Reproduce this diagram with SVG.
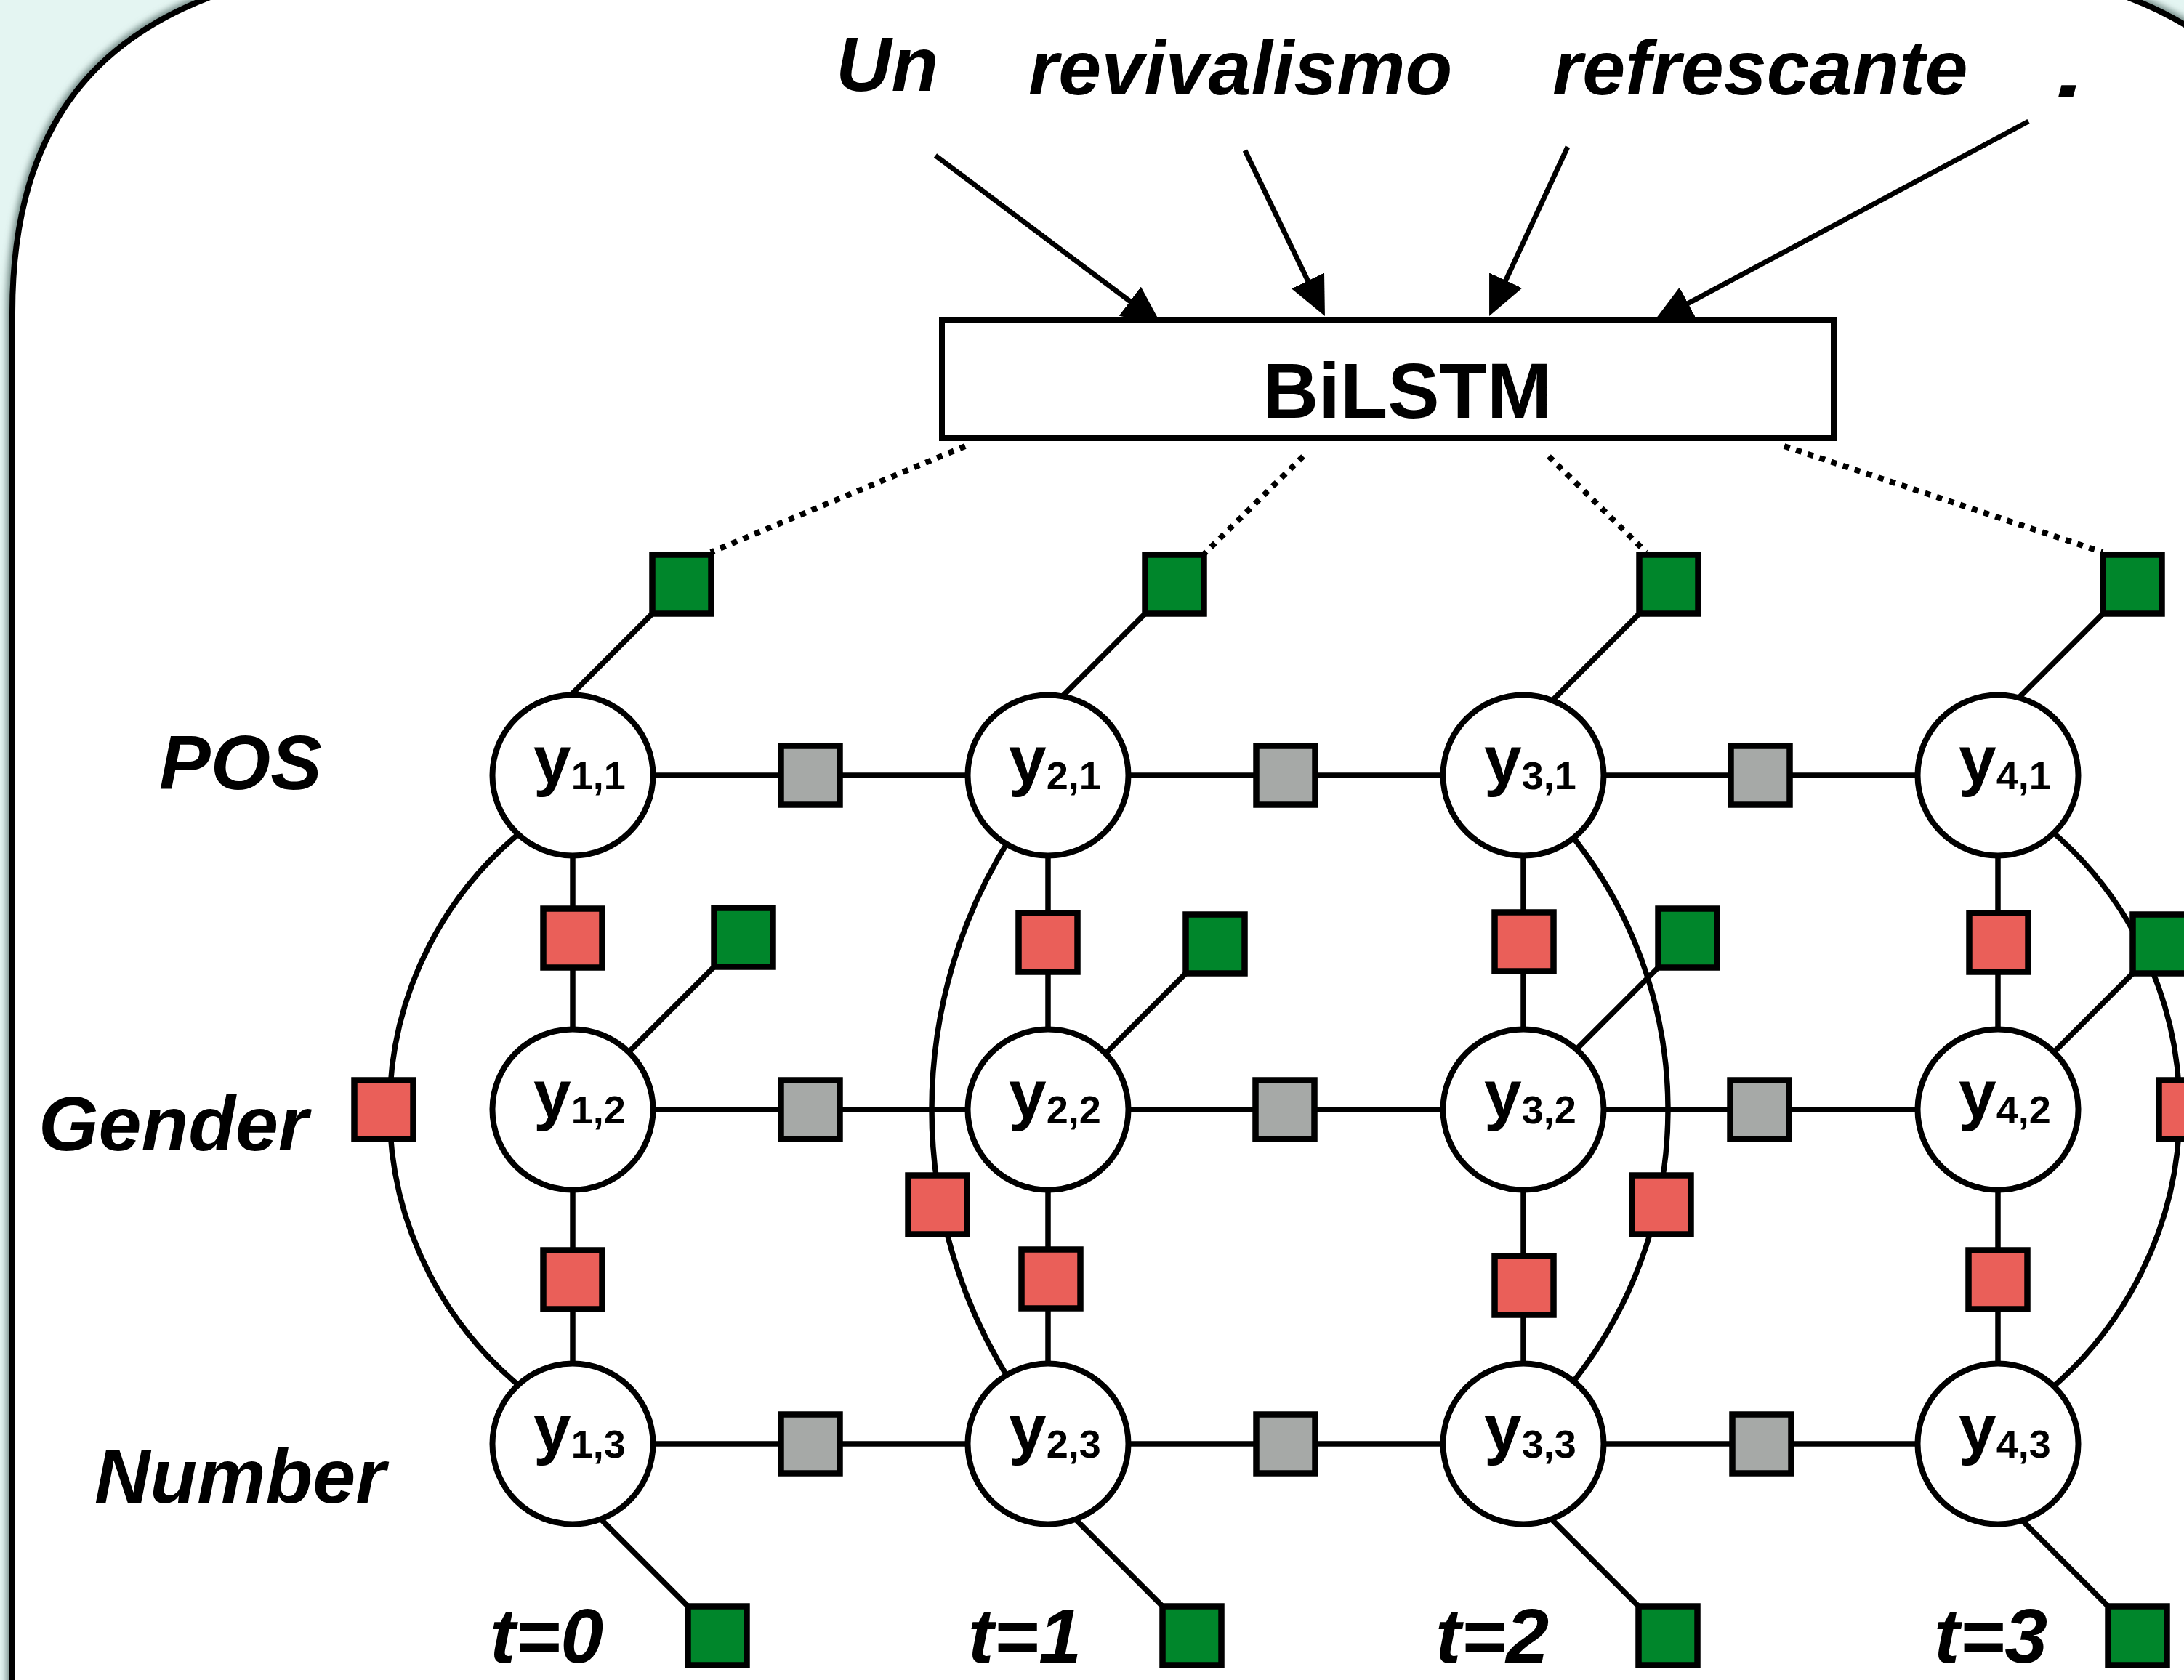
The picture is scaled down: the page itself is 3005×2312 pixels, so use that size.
<svg xmlns="http://www.w3.org/2000/svg" width="3005" height="2312" viewBox="0 0 3005 2312">
<defs>
<style>
.ln{stroke:#000;stroke-width:7.5;fill:none}
.dt{stroke:#000;stroke-width:8;stroke-dasharray:8 9;fill:none}
.ar{stroke:#000;stroke-width:7;fill:none;marker-end:url(#ah)}
.nd{fill:#fff;stroke:#000;stroke-width:8}
.sq{stroke:#000;stroke-width:8.5}
.g{fill:#00862b}
.r{fill:#ea5f59}
.h{fill:#a6a9a7}
.tx{font-family:"Liberation Sans",Arial,Helvetica,sans-serif;font-weight:bold;fill:#000}
.it{font-style:italic;font-size:106px}
.nl{font-size:93px}
.sb{font-size:54px}
</style>
<marker id="ah" markerUnits="userSpaceOnUse" viewBox="0 0 54 50" markerWidth="54" markerHeight="50" refX="32" refY="25" orient="auto">
<path d="M0,0 L54,25 L0,50 Z" fill="#000"/>
</marker>
<filter id="blur" x="-5%" y="-5%" width="110%" height="110%">
<feGaussianBlur stdDeviation="5"/>
</filter>
</defs>

<rect x="0" y="0" width="3005" height="2312" fill="#e4f5f2"/>
<g id="frame">
<path d="M17,2340 L17,430 C17,200 110,60 300,-8 L600,-90 L2616,-90 L2916,-8 C3106,60 3198,200 3198,430 L3198,2340 Z" fill="none" stroke="#6f8783" stroke-width="16" filter="url(#blur)"/>
<path d="M17,2340 L17,430 C17,200 110,60 300,-8 L600,-90 L2616,-90 L2916,-8 C3106,60 3198,200 3198,430 L3198,2340 Z" fill="#fff" stroke="#000" stroke-width="8"/>
</g>

<g id="words" class="tx it">
<text x="1150" y="125">Un</text>
<text x="1415" y="130">revivalismo</text>
<text x="2136" y="130">refrescante</text>
<text x="2829" y="133" textLength="40" lengthAdjust="spacingAndGlyphs">.</text>
</g>

<g id="row-labels" class="tx it">
<text x="219" y="1086">POS</text>
<text x="53" y="1583">Gender</text>
<text x="130" y="2068">Number</text>
</g>

<g id="time-labels" class="tx it">
<text x="674" y="2288">t=0</text>
<text x="1332" y="2288">t=1</text>
<text x="1975" y="2288">t=2</text>
<text x="2661" y="2288">t=3</text>
</g>

<g id="connectors">
<line class="ar" x1="1287" y1="214" x2="1580.4" y2="433.8"/>
<line class="ar" x1="1713" y1="207" x2="1813.4" y2="415.2"/>
<line class="ar" x1="2157" y1="202" x2="2058.3" y2="415"/>
<line class="ar" x1="2791" y1="167" x2="2294.4" y2="432.6"/>
<line class="dt" x1="1328" y1="614" x2="978" y2="760"/>
<line class="dt" x1="1793" y1="628" x2="1657" y2="762"/>
<line class="dt" x1="2131" y1="628" x2="2265" y2="760"/>
<line class="dt" x1="2455" y1="614" x2="2893" y2="760"/>
<line class="ln" x1="788" y1="1067" x2="2748" y2="1067"/>
<line class="ln" x1="788" y1="1527" x2="2748" y2="1527"/>
<line class="ln" x1="788" y1="1987" x2="2748" y2="1987"/>
<line class="ln" x1="788" y1="1067" x2="788" y2="1987"/>
<line class="ln" x1="1442" y1="1067" x2="1442" y2="1987"/>
<line class="ln" x1="2096" y1="1067" x2="2096" y2="1987"/>
<line class="ln" x1="2749" y1="1067" x2="2749" y2="1987"/>
<path class="ln" d="M723,1140 A494,494 0 0 0 723,1914"/>
<path class="ln" d="M1392,1150 A701,701 0 0 0 1392,1904"/>
<path class="ln" d="M2158.6,1145 A603,603 0 0 1 2158.6,1909"/>
<path class="ln" d="M2818.4,1140 A505,505 0 0 1 2818.4,1914"/>
<line class="ln" x1="938" y1="804" x2="778" y2="964"/>
<line class="ln" x1="1616" y1="804" x2="1456" y2="964"/>
<line class="ln" x1="2296" y1="804" x2="2131" y2="969"/>
<line class="ln" x1="2934" y1="804" x2="2774" y2="964"/>
<line class="ln" x1="1023" y1="1290" x2="858" y2="1455"/>
<line class="ln" x1="1672" y1="1299" x2="1512" y2="1459"/>
<line class="ln" x1="2322" y1="1291" x2="2162" y2="1451"/>
<line class="ln" x1="2975" y1="1299" x2="2815" y2="1459"/>
<line class="ln" x1="987" y1="2251" x2="822" y2="2086"/>
<line class="ln" x1="1640" y1="2251" x2="1475" y2="2086"/>
<line class="ln" x1="2295" y1="2251" x2="2130" y2="2086"/>
<line class="ln" x1="2941" y1="2251" x2="2776" y2="2086"/>
</g>

<g id="bilstm">
<rect x="1296" y="440" width="1227" height="163" fill="#fff" stroke="#000" stroke-width="8"/>
<text class="tx" x="1737" y="575" font-size="107">BiLSTM</text>
</g>

<g id="factors">
<rect id="f-u-1-1" class="sq g" x="897.5" y="763.5" width="81" height="81"/>
<rect id="f-u-2-1" class="sq g" x="1575.5" y="763.5" width="81" height="81"/>
<rect id="f-u-3-1" class="sq g" x="2255.5" y="763.5" width="81" height="81"/>
<rect id="f-u-4-1" class="sq g" x="2893.5" y="763.5" width="81" height="81"/>
<rect id="f-u-1-2" class="sq g" x="982.5" y="1249.5" width="81" height="81"/>
<rect id="f-u-2-2" class="sq g" x="1631.5" y="1258.5" width="81" height="81"/>
<rect id="f-u-3-2" class="sq g" x="2281.5" y="1250.5" width="81" height="81"/>
<rect id="f-u-4-2" class="sq g" x="2934.5" y="1258.5" width="81" height="81"/>
<rect id="f-u-1-3" class="sq g" x="946.5" y="2210.5" width="81" height="81"/>
<rect id="f-u-2-3" class="sq g" x="1599.5" y="2210.5" width="81" height="81"/>
<rect id="f-u-3-3" class="sq g" x="2254.5" y="2210.5" width="81" height="81"/>
<rect id="f-u-4-3" class="sq g" x="2900.5" y="2210.5" width="81" height="81"/>

<rect id="f-t-12-1" class="sq h" x="1074.5" y="1026.5" width="81" height="81"/>
<rect id="f-t-23-1" class="sq h" x="1728.5" y="1026.5" width="81" height="81"/>
<rect id="f-t-34-1" class="sq h" x="2381.5" y="1026.5" width="81" height="81"/>
<rect id="f-t-12-2" class="sq h" x="1074.5" y="1486.5" width="81" height="81"/>
<rect id="f-t-23-2" class="sq h" x="1727.5" y="1486.5" width="81" height="81"/>
<rect id="f-t-34-2" class="sq h" x="2380.5" y="1486.5" width="81" height="81"/>
<rect id="f-t-12-3" class="sq h" x="1074.5" y="1946.5" width="81" height="81"/>
<rect id="f-t-23-3" class="sq h" x="1728.5" y="1946.5" width="81" height="81"/>
<rect id="f-t-34-3" class="sq h" x="2383.5" y="1946.5" width="81" height="81"/>

<rect id="f-c-1-12" class="sq r" x="747.5" y="1250.5" width="81" height="81"/>
<rect id="f-c-1-23" class="sq r" x="747.5" y="1720.5" width="81" height="81"/>
<rect id="f-c-2-12" class="sq r" x="1401.5" y="1256.5" width="81" height="81"/>
<rect id="f-c-2-23" class="sq r" x="1405.5" y="1719.5" width="81" height="81"/>
<rect id="f-c-3-12" class="sq r" x="2056.5" y="1255.5" width="81" height="81"/>
<rect id="f-c-3-23" class="sq r" x="2056.5" y="1728.5" width="81" height="81"/>
<rect id="f-c-4-12" class="sq r" x="2709.5" y="1256.5" width="81" height="81"/>
<rect id="f-c-4-23" class="sq r" x="2708.5" y="1720.5" width="81" height="81"/>

<rect id="f-c-1-13" class="sq r" x="487.5" y="1486.5" width="81" height="81"/>
<rect id="f-c-2-13" class="sq r" x="1249.5" y="1617.5" width="81" height="81"/>
<rect id="f-c-3-13" class="sq r" x="2245.5" y="1617.5" width="81" height="81"/>
<rect id="f-c-4-13" class="sq r" x="2970.5" y="1486.5" width="81" height="81"/>
</g>

<g id="y11"><circle class="nd" cx="788" cy="1067" r="110.5"/><text class="tx nl" x="734" y="1078">y<tspan class="sb" dy="8">1,1</tspan></text></g>
<g id="y12"><circle class="nd" cx="788" cy="1527" r="110.5"/><text class="tx nl" x="734" y="1538">y<tspan class="sb" dy="8">1,2</tspan></text></g>
<g id="y13"><circle class="nd" cx="788" cy="1987" r="110.5"/><text class="tx nl" x="734" y="1998">y<tspan class="sb" dy="8">1,3</tspan></text></g>
<g id="y21"><circle class="nd" cx="1442" cy="1067" r="110.5"/><text class="tx nl" x="1388" y="1078">y<tspan class="sb" dy="8">2,1</tspan></text></g>
<g id="y22"><circle class="nd" cx="1442" cy="1527" r="110.5"/><text class="tx nl" x="1388" y="1538">y<tspan class="sb" dy="8">2,2</tspan></text></g>
<g id="y23"><circle class="nd" cx="1442" cy="1987" r="110.5"/><text class="tx nl" x="1388" y="1998">y<tspan class="sb" dy="8">2,3</tspan></text></g>
<g id="y31"><circle class="nd" cx="2096" cy="1067" r="110.5"/><text class="tx nl" x="2042" y="1078">y<tspan class="sb" dy="8">3,1</tspan></text></g>
<g id="y32"><circle class="nd" cx="2096" cy="1527" r="110.5"/><text class="tx nl" x="2042" y="1538">y<tspan class="sb" dy="8">3,2</tspan></text></g>
<g id="y33"><circle class="nd" cx="2096" cy="1987" r="110.5"/><text class="tx nl" x="2042" y="1998">y<tspan class="sb" dy="8">3,3</tspan></text></g>
<g id="y41"><circle class="nd" cx="2749" cy="1067" r="110.5"/><text class="tx nl" x="2695" y="1078">y<tspan class="sb" dy="8">4,1</tspan></text></g>
<g id="y42"><circle class="nd" cx="2749" cy="1527" r="110.5"/><text class="tx nl" x="2695" y="1538">y<tspan class="sb" dy="8">4,2</tspan></text></g>
<g id="y43"><circle class="nd" cx="2749" cy="1987" r="110.5"/><text class="tx nl" x="2695" y="1998">y<tspan class="sb" dy="8">4,3</tspan></text></g>
</svg>
